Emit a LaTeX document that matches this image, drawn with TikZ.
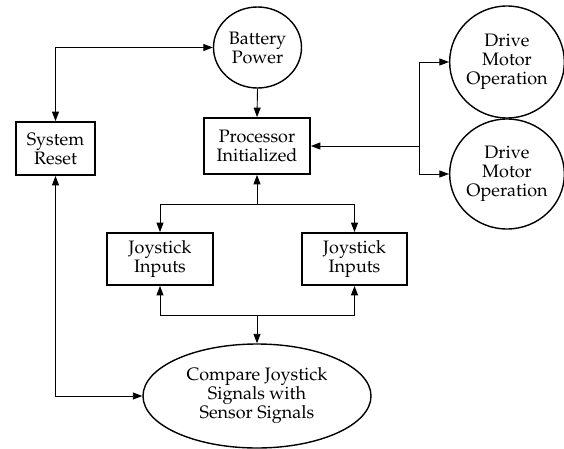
\documentclass[tikz,border=0pt]{standalone}
\usepackage[T1]{fontenc}
\usepackage{mathpazo}
\usetikzlibrary{arrows.meta,shapes.geometric}
\tikzset{
  lbl/.style={align=center,font=\fontsize{18}{19}\selectfont,inner sep=0pt},
  boxnode/.style={lbl,draw,line width=1.8pt,rectangle},
  ovalnode/.style={lbl,draw,line width=1.4pt,ellipse},
  link/.style={line width=0.9pt,-{Triangle[length=9.5pt,width=7pt]}},
  twoway/.style={line width=0.9pt,{Triangle[length=9.5pt,width=7pt]}-{Triangle[length=9.5pt,width=7pt]}}
}
\begin{document}
\begin{tikzpicture}[x=1pt,y=-1pt]
\useasboundingbox (0,0) rectangle (564,449);
% process nodes
\node[ovalnode,minimum width=88pt,minimum height=81pt] (bat) at (257.5,47.5) {Battery\\Power};
\node[boxnode,minimum width=106pt,minimum height=56pt] (proc) at (257,146) {Processor\\Initialized};
\node[boxnode,minimum width=79pt,minimum height=53pt] (reset) at (55.5,148.5) {System\\Reset};
\node[boxnode,minimum width=106pt,minimum height=52pt] (joyL) at (160,259) {Joystick\\Inputs};
\node[boxnode,minimum width=105pt,minimum height=52pt] (joyR) at (354.5,259) {Joystick\\Inputs};
\node[ovalnode,minimum width=228pt,minimum height=104pt] (cmp) at (257,396) {Compare Joystick\\Signals with\\Sensor Signals};
\node[ovalnode,minimum width=112pt,minimum height=112pt] (drv1) at (507,62) {Drive\\Motor\\Operation};
\node[ovalnode,minimum width=112pt,minimum height=110pt] (drv2) at (507,174) {Drive\\Motor\\Operation};
% branch points
\coordinate (j1) at (257,204);
\coordinate (j2) at (257,315);
\coordinate (j3) at (419,146);
% connectors
\draw[twoway] (reset.north) |- (bat.west);
\draw[link] (bat.south) -- (proc.north);
\draw[link] (j1) -- (proc.south);
\draw[link] (j1) -| (joyL.north);
\draw[link] (j1) -| (joyR.north);
\draw[link] (j2) -| (joyL.south);
\draw[link] (j2) -| (joyR.south);
\draw[link] (j2) -- (cmp.north);
\draw[twoway] (reset.south) |- (cmp.west);
\draw[link] (j3) -- (proc.east);
\draw[link] (j3) |- (drv1.west);
\draw[link] (j3) |- (drv2.west);
\end{tikzpicture}
\end{document}
